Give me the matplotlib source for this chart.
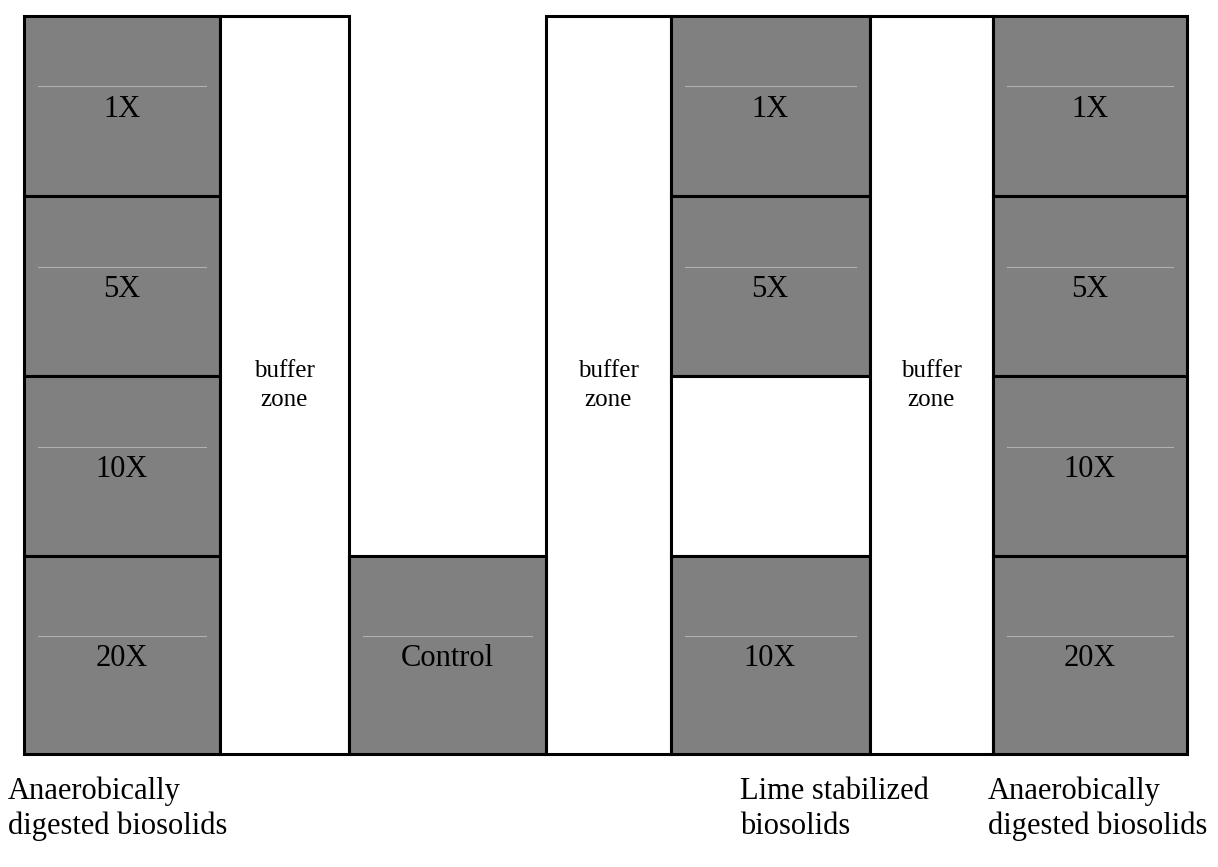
import matplotlib.pyplot as plt
from matplotlib.patches import Rectangle

plt.rcParams['font.family'] = ['Liberation Serif', 'DejaVu Serif']

## field layout (pixel units of the figure)
col_kinds = ['plot', 'buffer', 'plot', 'buffer', 'plot', 'buffer', 'plot']
col_edges = [23.5, 220, 348.5, 546, 670.5, 869.5, 993, 1187]
row_edges = [15.5, 196, 376, 556, 754]

## application rates per plot column, top -> bottom
## None = no plot drawn, '' = empty bordered plot
rates = {
    0: ['1X', '5X', '10X', '20X'],
    2: [None, None, None, 'Control'],
    4: ['1X', '5X', '', '10X'],
    6: ['1X', '5X', '10X', '20X'],
}
buffer_label = 'buffer\nzone'

## biosolids type labels under the columns
type_labels = ['Anaerobically\ndigested biosolids',
               'Lime stabilized\nbiosolids',
               'Anaerobically\ndigested biosolids']
type_label_x = [8, 740, 988]

gray = '#808080'
lw = 2.2

fig = plt.figure(figsize=(12.18, 8.67), dpi=100)
ax = fig.add_axes([0, 0, 1, 1])
ax.set_xlim(0, 1218)
ax.set_ylim(867, 0)
ax.axis('off')

for c, kind in enumerate(col_kinds):
    x0, x1 = col_edges[c], col_edges[c + 1]
    if kind == 'buffer':
        ax.add_patch(Rectangle((x0, row_edges[0]), x1 - x0, row_edges[-1] - row_edges[0],
                               facecolor='white', edgecolor='black', lw=lw, joinstyle='miter'))
        ax.text((x0 + x1) / 2, (row_edges[0] + row_edges[-1]) / 2 + 1, buffer_label,
                ha='center', va='center', fontsize=18, linespacing=1.4)
        continue
    for r, lab in enumerate(rates[c]):
        if lab is None:
            continue
        y0, y1 = row_edges[r], row_edges[r + 1]
        fc = gray if lab else 'white'
        ax.add_patch(Rectangle((x0, y0), x1 - x0, y1 - y0, facecolor=fc,
                               edgecolor='black', lw=lw, joinstyle='miter'))
        if lab:
            yc = (y0 + y1) / 2
            # faint frame line of the text box
            ax.plot([x0 + 14, x1 - 14], [yc - 19.5, yc - 19.5], color='#b0b0b0', lw=0.8)
            ax.text((x0 + x1) / 2, yc + 11, lab, ha='center', va='baseline', fontsize=22)

## labels under the field, one line at a time so baselines line up
for lab, x in zip(type_labels, type_label_x):
    for i, line in enumerate(lab.split('\n')):
        ax.text(x, 799 + i * 35, line, ha='left', va='baseline', fontsize=22)

fig.savefig('out.png', dpi=100)
